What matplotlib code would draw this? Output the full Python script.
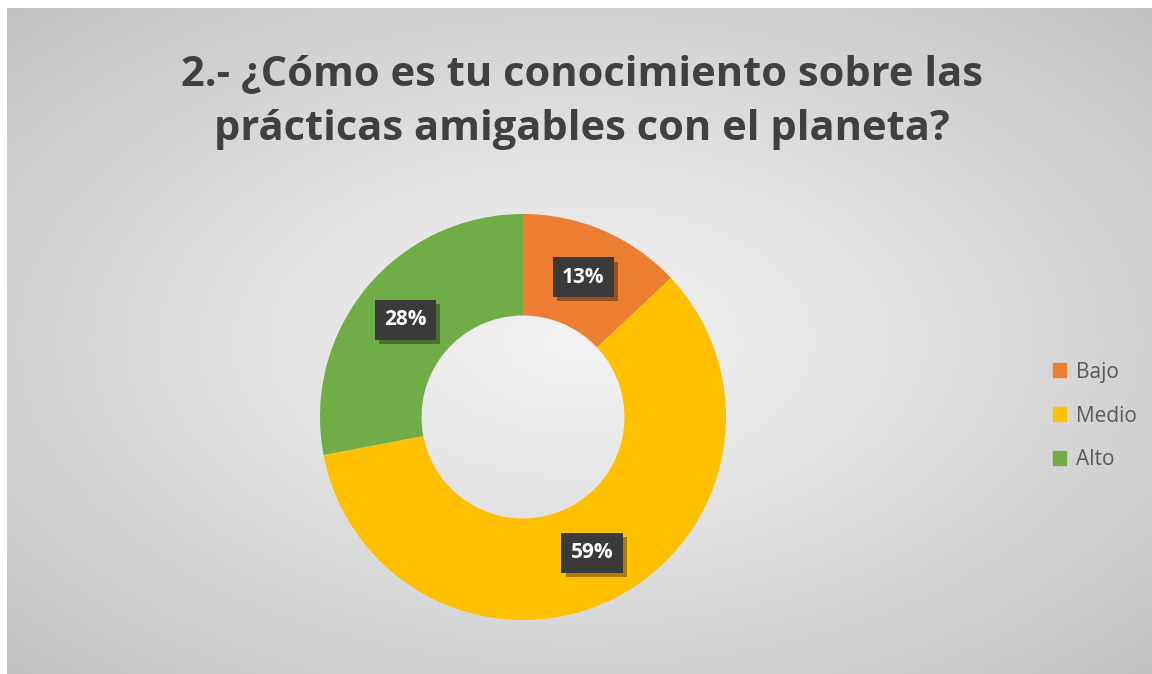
import numpy as np
import matplotlib
matplotlib.use("Agg")
import matplotlib.pyplot as plt
import matplotlib.patches as mpatches
import matplotlib.patheffects as pe

categories = ["Bajo", "Medio", "Alto"]
values = [13, 59, 28]
colors = ["#ED7D31", "#FFC000", "#70AD47"]
title = "2.- ¿Cómo es tu conocimiento sobre las\nprácticas amigables con el planeta?"

W, H = 1152, 674
fig = plt.figure(figsize=(W / 100, H / 100), dpi=100)
fig.patch.set_facecolor("white")

# background gradient panel
x0, y0 = 7, 8  # top-left of chart area in pixels
bg = fig.add_axes([x0 / W, 0, 1 - x0 / W, 1 - y0 / H])
bg.set_axis_off()
nx, ny = 400, 240
xx, yy = np.meshgrid(np.linspace(-1, 1, nx), np.linspace(-1, 1, ny))
rr = np.sqrt(xx ** 2 + yy ** 2) / np.sqrt(2)
c_in, c_out = 0.955, 0.76
img = c_in + (c_out - c_in) * rr ** 1.1
bg.imshow(np.dstack([img, img, img]), aspect="auto", extent=[0, 1, 0, 1], interpolation="bicubic")
bg.set_xlim(0, 1)
bg.set_ylim(0, 1)

fig.text(0.505, 1 - 102 / H, title, ha="center", va="center", fontsize=30,
         fontweight="bold", color="#404040", family="Open Sans", linespacing=1.45)

# donut
cx, cy, R = 523, 674 - 417, 203
ax = fig.add_axes([(cx - R) / W, (cy - R) / H, 2 * R / W, 2 * R / H])
ax.set_axis_off()
wedges, _ = ax.pie(values, colors=colors, startangle=90, counterclock=False,
                   radius=1, wedgeprops=dict(width=0.5, edgecolor="none"))
ax.set_xlim(-1, 1)
ax.set_ylim(-1, 1)

for w, v in zip(wedges, values):
    ang = np.deg2rad((w.theta1 + w.theta2) / 2)
    x, y = 0.75 * np.cos(ang), 0.75 * np.sin(ang)
    t = ax.text(x, y, f"{v}%", ha="center", va="center", fontsize=15,
                fontweight="bold", color="white", family="Open Sans",
                bbox=dict(boxstyle="square,pad=0.45", facecolor="#3a3a3a", edgecolor="none"))
    t.get_bbox_patch().set_path_effects([
        pe.SimplePatchShadow(offset=(3, -3), shadow_rgbFace="black", alpha=0.35),
        pe.Normal()])

handles = [mpatches.Patch(color=c) for c in colors]
fig.legend(handles, categories, loc="center left", bbox_to_anchor=(1034 / W, 1 - 416 / H),
           frameon=False, labelcolor="#595959", handlelength=0.65,
           handleheight=0.65, handletextpad=0.45, labelspacing=1.1,
           prop=dict(family="Open Sans", size=15))

fig.savefig("out.png", dpi=100, facecolor="white")
